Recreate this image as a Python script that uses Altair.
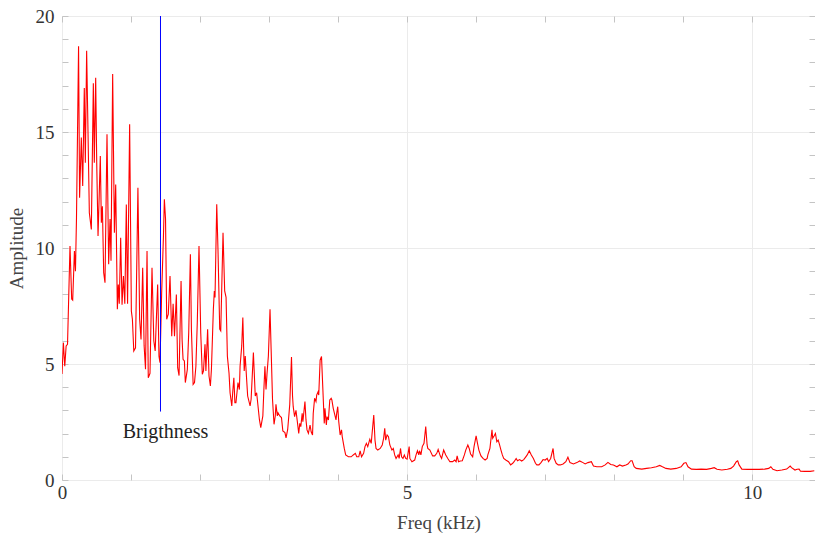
import altair as alt
import pandas as pd

# Spectrum (frequency in kHz, amplitude)
freq = [0.00,0.02,0.04,0.06,0.08,0.116,0.14,0.155,0.18,0.195,0.21,0.24,0.255,0.28,0.30,0.323,0.338,0.357,0.377,0.396,
        0.425,0.454,0.468,0.488,0.503,0.522,0.536,0.555,0.57,0.585,0.604,0.623,0.652,0.676,0.696,0.71,0.734,0.759,0.778,0.802,
        0.816,0.83,0.85,0.87,0.89,0.91,0.932,0.95,0.98,1.005,1.02,1.04,1.065,1.10,1.125,1.145,1.169,1.19,1.21,1.232,
        1.25,1.275,1.304,1.33,1.35,1.386,1.405,1.42,1.444,1.47,1.483,1.50,1.517,1.54,1.565,1.59,1.61,1.63,1.657,1.676,
        1.696,1.725,1.74,1.754,1.773,1.787,1.816,1.836,1.86,1.875,1.90,1.92,1.94,1.96,1.985,2.01,2.033,2.05,2.072,2.085,
        2.11,2.13,2.15,2.165,2.193,2.207,2.217,2.242,2.26,2.285,2.30,2.333,2.357,2.377,2.396,2.42,2.435,2.46,2.473,2.49,
        2.505,2.52,2.55,2.57,2.58,2.604,2.62,2.64,2.655,2.675,2.69,2.725,2.74,2.773,2.80,2.82,2.835,2.86,2.88,2.91,
        2.925,2.94,2.956,2.97,2.99,3.014,3.03,3.05,3.072,3.09,3.10,3.12,3.13,3.155,3.18,3.20,3.23,3.246,3.27,3.29,
        3.30,3.325,3.34,3.35,3.37,3.39,3.41,3.43,3.445,3.46,3.48,3.49,3.52,3.535,3.55,3.57,3.594,3.61,3.63,3.64,
        3.66,3.68,3.69,3.71,3.72,3.74,3.76,3.77,3.80,3.81,3.83,3.84,3.86,3.88,3.90,3.91,3.93,3.97,3.98,3.995,
        4.01,4.03,4.05,4.06,4.09,4.11,4.15,4.19,4.22,4.25,4.27,4.30,4.32,4.34,4.37,4.39,4.41,4.43,4.45,4.46,
        4.48,4.517,4.535,4.55,4.575,4.61,4.64,4.66,4.676,4.69,4.71,4.73,4.75,4.78,4.80,4.82,4.84,4.87,4.885,4.905,
        4.92,4.94,4.96,4.98,5.00,5.03,5.04,5.07,5.11,5.13,5.15,5.17,5.18,5.20,5.22,5.245,5.27,5.29,5.30,5.33,
        5.37,5.40,5.43,5.45,5.48,5.50,5.53,5.56,5.59,5.62,5.66,5.69,5.71,5.725,5.745,5.77,5.80,5.83,5.85,5.88,
        5.90,5.92,5.95,5.97,6.00,6.02,6.04,6.07,6.10,6.13,6.16,6.17,6.20,6.23,6.24,6.26,6.28,6.30,6.32,6.34,
        6.36,6.38,6.40,6.43,6.47,6.50,6.53,6.55,6.58,6.60,6.63,6.66,6.69,6.72,6.74,6.77,6.80,6.83,6.86,6.88,
        6.91,6.94,6.97,7.00,7.03,7.05,7.08,7.115,7.13,7.16,7.19,7.22,7.26,7.30,7.33,7.36,7.41,7.46,7.50,7.53,
        7.58,7.62,7.67,7.70,7.75,7.82,7.87,7.91,7.95,7.99,8.04,8.08,8.12,8.17,8.20,8.24,8.26,8.29,8.32,8.40,
        8.47,8.54,8.61,8.66,8.70,8.75,8.82,8.90,8.97,9.01,9.04,9.07,9.12,9.19,9.26,9.34,9.41,9.45,9.49,9.56,
        9.64,9.69,9.73,9.77,9.79,9.81,9.85,9.93,10.02,10.10,10.18,10.24,10.27,10.30,10.36,10.43,10.50,10.55,10.57,10.62,
        10.65,10.68,10.70,10.76,10.84,10.90]
amp = [4.57,5.92,4.9,5.78,5.85,10.09,7.8,7.75,9.87,9.0,11.3,18.7,12.17,14.76,12.67,16.9,13.68,18.5,14.97,11.52,
       10.8,17.1,13.68,17.34,13.68,10.52,11.95,13.97,11.09,11.8,8.94,8.5,14.9,9.3,11.25,9.45,17.5,10.66,12.74,7.36,
       8.43,7.6,10.44,7.55,8.79,7.6,11.88,7.6,15.33,7.28,6.93,5.56,5.7,12.6,6.93,6.06,9.15,5.78,4.77,9.87,
       4.41,4.6,9.15,6.0,5.56,8.43,5.34,5.06,8.07,10.52,12.1,11.25,6.93,7.15,8.79,6.2,7.6,6.2,8.0,4.84,
       4.5,8.58,6.06,5.2,5.13,4.2,4.77,6.35,9.73,6.5,4.12,4.2,4.9,6.78,10.09,6.35,4.56,4.7,5.85,4.7,
       6.5,4.48,4.05,4.77,7.36,8.15,7.87,11.88,9.94,6.5,6.43,10.66,8.15,7.87,5.34,4.6,3.76,3.19,3.76,4.41,
       3.33,3.33,4.2,3.9,4.9,5.78,7.0,4.7,5.34,4.34,3.62,3.19,3.48,5.49,3.62,3.76,3.33,2.61,2.26,2.76,
       3.9,4.9,3.9,4.56,5.34,7.36,5.63,3.48,2.4,2.76,3.26,2.76,2.9,2.76,2.69,2.11,2.04,1.82,2.18,2.9,
       3.26,5.3,3.62,3.16,2.73,3.0,2.51,2.01,2.44,2.3,2.87,2.51,3.38,2.59,2.16,2.01,2.37,2.08,1.94,2.87,
       3.52,3.38,3.66,3.8,3.66,5.17,5.32,4.6,2.44,3.09,2.37,2.73,2.59,3.45,3.52,3.45,3.09,2.59,2.87,3.16,
       2.51,1.94,2.16,1.87,1.36,1.08,1.0,1.0,1.08,1.15,1.0,1.0,1.26,1.0,1.15,1.44,1.58,1.44,1.65,1.75,
       1.58,2.8,1.72,1.36,1.29,1.36,1.51,1.8,2.23,1.72,1.94,1.87,1.51,1.29,1.36,1.08,0.93,1.08,0.93,1.36,
       1.0,0.93,1.08,0.93,0.9,1.44,0.93,0.79,0.86,1.08,1.26,1.08,1.26,1.08,1.44,1.58,2.3,1.51,1.36,1.29,
       1.04,1.04,1.15,1.32,1.04,0.93,1.29,1.08,0.93,0.79,0.79,0.86,0.79,1.04,0.79,0.82,0.83,1.08,1.29,1.51,
       1.36,1.12,1.0,1.44,1.9,1.58,1.29,1.04,0.93,0.86,0.93,1.08,1.36,2.16,1.8,1.9,2.01,1.65,1.72,1.51,
       1.29,1.08,0.93,0.86,0.79,0.65,0.72,0.79,0.93,0.83,0.88,0.82,0.88,1.0,1.08,1.26,1.08,0.93,0.72,0.65,
       0.65,0.75,0.88,0.86,0.93,0.79,0.93,1.36,0.93,0.72,0.65,0.65,0.69,0.79,0.98,0.75,0.69,0.75,0.82,0.78,
       0.69,0.75,0.79,0.6,0.57,0.57,0.65,0.76,0.67,0.65,0.57,0.65,0.6,0.65,0.69,0.83,0.83,0.57,0.5,0.47,
       0.5,0.53,0.57,0.63,0.57,0.5,0.47,0.5,0.57,0.72,0.75,0.57,0.47,0.46,0.47,0.46,0.5,0.53,0.46,0.43,
       0.46,0.5,0.6,0.79,0.83,0.65,0.47,0.46,0.46,0.46,0.47,0.5,0.57,0.46,0.4,0.43,0.47,0.6,0.53,0.43,
       0.46,0.47,0.38,0.37,0.37,0.4]

# Brightness marker
bright_freq = [1.427]
bright_low = [2.95]
bright_high = [20]
label_y = [2.08]
label_text = ["Brigthness"]

x_labels = [0, 5, 10]
x_minor = list(range(0, 11))
y_labels = [0, 5, 10, 15, 20]
y_minor = list(range(0, 21))

FONT = "Liberation Serif"
FS = 19
FRAME = "#c4c4c4"

spec = pd.DataFrame({"freq": freq, "amp": amp})
mark_df = pd.DataFrame({"bf": bright_freq, "lo": bright_low, "hi": bright_high,
                        "ly": label_y, "txt": label_text})

xs = alt.Scale(domain=[0, 10.91], nice=False, zero=False)
ys = alt.Scale(domain=[0, 20], nice=False, zero=False)

line = alt.Chart(spec).mark_line(color="#ff0000", strokeWidth=1.1, clip=True).encode(
    x=alt.X("freq:Q", scale=xs, axis=alt.Axis(
        values=x_labels, orient="bottom", grid=True, gridColor="#ebebeb", ticks=False, domain=False,
        labelFont=FONT, labelFontSize=FS, labelColor="#333", labelPadding=3, format="d",
        labelFlush=False, labelOverlap=False,
        title="Freq (kHz)", titleFont=FONT, titleFontSize=FS, titleFontWeight="normal",
        titleColor="#444", titlePadding=11)),
    y=alt.Y("amp:Q", scale=ys, axis=alt.Axis(
        values=y_labels, orient="left", grid=True, gridColor="#ebebeb", ticks=False, domain=False,
        labelFont=FONT, labelFontSize=FS, labelColor="#333", labelPadding=8, format="d",
        labelFlush=False, labelOverlap=False,
        title="Amplitude", titleFont=FONT, titleFontSize=FS, titleFontWeight="normal",
        titleColor="#444", titlePadding=9)),
)

minor_common = dict(labels=False, domain=False, grid=False, ticks=True, tickSize=6,
                    tickColor=FRAME, title="")

rule = alt.Chart(mark_df).mark_rule(color="#0000ff", strokeWidth=1).encode(
    x=alt.X("bf:Q", scale=xs, axis=alt.Axis(values=x_minor, orient="bottom", offset=-6, **minor_common)),
    y=alt.Y("lo:Q", scale=ys, axis=alt.Axis(values=y_minor, orient="left", offset=-6, **minor_common)),
    y2="hi:Q",
)

text = alt.Chart(mark_df).mark_text(align="center", baseline="middle", dx=5, font=FONT,
                                    fontSize=FS + 1, color="#222").encode(
    x=alt.X("bf:Q", scale=xs, axis=alt.Axis(values=x_minor, orient="top", offset=-6, **minor_common)),
    y=alt.Y("ly:Q", scale=ys, axis=alt.Axis(values=y_minor, orient="right", offset=-6, **minor_common)),
    text="txt:N",
)

chart = alt.layer(line, rule, text).resolve_axis(x="independent", y="independent").properties(
    width=753, height=464,
    autosize=alt.AutoSizeParams(type="none"),
    padding={"left": 62, "top": 16, "right": 0, "bottom": 56},
).configure_view(stroke=FRAME, strokeWidth=1).configure(background="white")

chart.save("out.html", embed_options={"renderer": "svg", "actions": False})
